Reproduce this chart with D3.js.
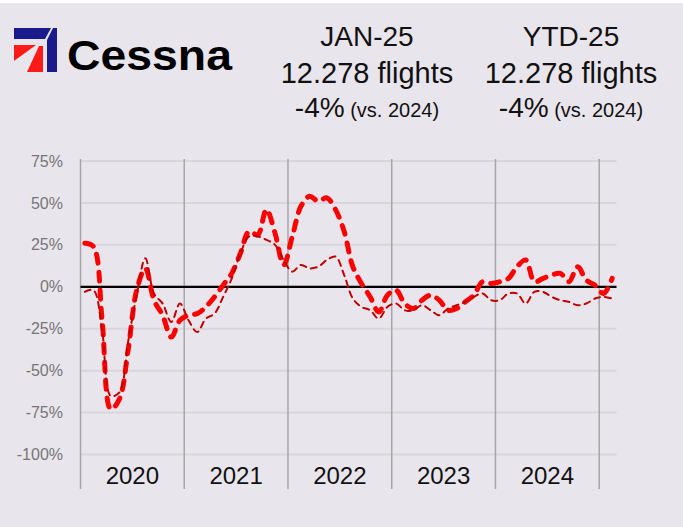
<!DOCTYPE html>
<html>
<head>
<meta charset="utf-8">
<script src="https://cdn.jsdelivr.net/npm/d3@7"></script>
<style>
  html, body { margin: 0; padding: 0; background: #fff; }
  svg { display: block; font-family: "Liberation Sans", Arial, sans-serif; }
</style>
</head>
<body>
<svg width="683" height="527"></svg>
<script>
const years = ["2020", "2021", "2022", "2023", "2024"];
const monthNames = ["Jan", "Feb", "Mar", "Apr", "May", "Jun", "Jul", "Aug", "Sep", "Oct", "Nov", "Dec"];
const yTicks = [-100, -75, -50, -25, 0, 25, 50, 75];

// monthly change vs same month previous year (%)
const monthly2020 = [26, 24, -20, -73, -67, -38, -2, 11, -8, -17, -30, -20];
const monthly2021 = [-17, -16, -12, -6, 1, 8, 20, 33, 31, 46, 32, 13];
const monthly2022 = [30, 48, 54, 51, 53, 46, 33, 12, 2, -6, -15, -5];
const monthly2023 = [-2, -10, -13, -8, -5, -8, -14, -13, -9, -5, 3, 2];
const monthly2024 = [3, 5, 12, 16, 3, 5, 7, 8, 3, 12, 4, 1];
const monthly2025 = [-4, 5];

// thin dashed series (%)
const ytd2020 = [-3, -2, -26, -65, -63, -33, -5, 17, -4, -10, -21, -10];
const ytd2021 = [-20, -27, -19, -16, -6, 5, 20, 30, 30, 28, 25, 16];
const ytd2022 = [9, 13, 11, 12, 16, 18, 7, -7, -12, -14, -19, -12];
const ytd2023 = [-10, -14, -14, -11, -14, -17, -13, -11, -9, -6, -4, -8];
const ytd2024 = [-8, -4, -4, -10, -3, -3, -6, -8, -9, -11, -10, -7];
const ytd2025 = [-6, -7];

const monthly = [].concat(monthly2020, monthly2021, monthly2022, monthly2023, monthly2024, monthly2025);
const ytd = [].concat(ytd2020, ytd2021, ytd2022, ytd2023, ytd2024, ytd2025);
const categories = monthly.map((d, i) => monthNames[i % 12] + "-" + (20 + Math.floor(i / 12)));

const svg = d3.select("svg");

// background
svg.append("rect").attr("width", 683).attr("height", 527).attr("fill", "#e9e5ec");
svg.append("rect").attr("width", 683).attr("height", 3).attr("fill", "#ffffff");

const plotLeft = 80.5, plotRight = 616.5, plotTop = 161, plotBottom = 454.5;

const x = d3.scaleBand().domain(categories).range([plotLeft, plotRight]);
const xc = (i) => x(categories[i]) + x.bandwidth() / 2;
const y = d3.scaleLinear().domain([-100, 75]).range([plotBottom, plotTop]);

// horizontal gridlines
svg.append("g")
  .selectAll("line")
  .data(yTicks)
  .enter()
  .append("line")
  .attr("x1", plotLeft)
  .attr("x2", plotRight)
  .attr("y1", (d) => y(d))
  .attr("y2", (d) => y(d))
  .style("stroke", "#d8d6d9")
  .style("stroke-width", 2);

// year separators
const bounds = years.map((yr) => x("Jan-" + yr.slice(2))).concat([x("Jan-25")]);
svg.append("g")
  .selectAll("line")
  .data(bounds)
  .enter()
  .append("line")
  .attr("x1", (d) => d)
  .attr("x2", (d) => d)
  .attr("y1", 159)
  .attr("y2", 489)
  .style("stroke", "#a6a6a6")
  .style("stroke-width", 1.5);

// y axis labels
const yAxis = svg.append("g")
  .attr("transform", "translate(63,0)")
  .call(d3.axisLeft(y).tickValues(yTicks).tickSize(0).tickPadding(0).tickFormat((d) => d + "%"));
yAxis.select(".domain").remove();
yAxis.selectAll("text")
  .attr("fill", "#767676")
  .style("font-size", "16px")
  .style("font-family", "'Liberation Sans', Arial, sans-serif");

// year labels
svg.append("g")
  .selectAll("text")
  .data(years)
  .enter()
  .append("text")
  .attr("x", (d, i) => (bounds[i] + bounds[i + 1]) / 2)
  .attr("y", 484)
  .attr("text-anchor", "middle")
  .style("font-size", "24px")
  .attr("fill", "#111")
  .text((d) => d);

// zero line
svg.append("line")
  .attr("x1", plotLeft)
  .attr("x2", plotRight)
  .attr("y1", y(0))
  .attr("y2", y(0))
  .style("stroke", "#000")
  .style("stroke-width", 2.2);

const line = d3.line()
  .x((d, i) => xc(i))
  .y((d) => y(d))
  .curve(d3.curveCatmullRom.alpha(0.5));

// thick dashed monthly line
svg.append("path")
  .datum(monthly)
  .attr("d", line)
  .attr("fill", "none")
  .style("stroke", "#ff0000")
  .style("stroke-width", 5)
  .style("stroke-linecap", "round")
  .style("stroke-dasharray", "9,9");

// thin dashed line
svg.append("path")
  .datum(ytd)
  .attr("d", line)
  .attr("fill", "none")
  .style("stroke", "#c00000")
  .style("stroke-width", 2)
  .style("stroke-linecap", "round")
  .style("stroke-dasharray", "6,5");

// logo
const logo = svg.append("g");
logo.append("polygon").attr("points", "14,28 51,28 45,39 14,39").attr("fill", "#1a1a8c");
logo.append("polygon").attr("points", "53,28 57,28 57,72 47,72 47,40").attr("fill", "#1a1a8c");
logo.append("polygon").attr("points", "14,45 36,45 14,61").attr("fill", "#ff1a1a");
logo.append("polygon").attr("points", "39,46 43,46 43,72 27,72").attr("fill", "#ff1a1a");
logo.append("text")
  .attr("x", 67)
  .attr("y", 70)
  .attr("textLength", 165)
  .attr("lengthAdjust", "spacingAndGlyphs")
  .style("font-size", "43px")
  .style("font-weight", "bold")
  .attr("fill", "#000")
  .text("Cessna");

// header stats
const header = [
  { cx: 367, title: "JAN-25" },
  { cx: 571, title: "YTD-25" }
];
header.forEach((h) => {
  svg.append("text").attr("x", h.cx).attr("y", 46).attr("text-anchor", "middle")
    .style("font-size", "28px").attr("fill", "#111").text(h.title);
  svg.append("text").attr("x", h.cx).attr("y", 83).attr("text-anchor", "middle")
    .style("font-size", "29px").attr("fill", "#111").text("12.278 flights");
  const t = svg.append("text").attr("x", h.cx).attr("y", 117).attr("text-anchor", "middle")
    .attr("fill", "#111");
  t.append("tspan").style("font-size", "28px").text("-4%");
  t.append("tspan").style("font-size", "20px").text(" (vs. 2024)");
});
</script>
</body>
</html>
